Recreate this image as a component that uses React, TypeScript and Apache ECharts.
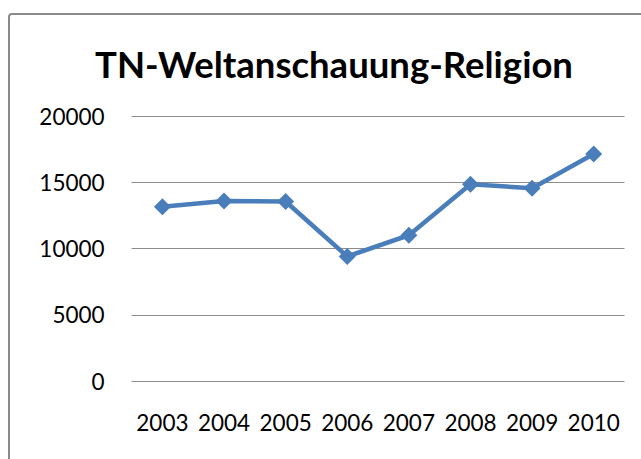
import React, { useEffect, useRef } from "react";
import * as echarts from "echarts";

const categories = ["2003", "2004", "2005", "2006", "2007", "2008", "2009", "2010"];
const values = [13150, 13580, 13550, 9400, 11000, 14850, 14550, 17130];
const yTicks = { min: 0, max: 20000, interval: 5000 };
const title = "TN-Weltanschauung-Religion";

export default function App() {
  const ref = useRef<HTMLDivElement>(null);
  useEffect(() => {
    if (!ref.current) return;
    const chart = echarts.init(ref.current, null, { renderer: "svg" });
    chart.setOption({
      animation: false,
      backgroundColor: "#ffffff",
      title: {
        text: title,
        left: 329,
        textAlign: "center",
        top: 40,
        textStyle: { fontFamily: "Lato", fontWeight: "bold", fontSize: 36.5, color: "#000" },
      },
      graphic: [
        {
          type: "rect",
          shape: { x: 9, y: 14, width: 800, height: 600, r: 3 },
          style: { fill: "none", stroke: "#8a8a8a", lineWidth: 2 },
          silent: true,
        },
      ],
      grid: { left: 131.6, right: 16.5, top: 116, bottom: 78 },
      xAxis: {
        type: "category",
        data: categories,
        boundaryGap: true,
        axisLine: { show: false },
        axisTick: { show: false },
        axisLabel: {
          interval: 0,
          hideOverlap: false,
          fontFamily: "Lato",
          fontSize: 22.5,
          color: "#000",
          margin: 30,
        },
      },
      yAxis: {
        type: "value",
        min: yTicks.min,
        max: yTicks.max,
        interval: yTicks.interval,
        axisLine: { show: false },
        axisTick: { show: false },
        axisLabel: {
          fontFamily: "Lato",
          fontSize: 22.5,
          color: "#000",
          margin: 27,
          formatter: (v: number) => String(v),
        },
        splitLine: { lineStyle: { color: "#8c8c8c", width: 1 } },
      },
      series: [
        {
          type: "line",
          data: values,
          symbol: "diamond",
          symbolSize: 17,
          lineStyle: { color: "#4a7ebb", width: 4.5 },
          itemStyle: { color: "#4a7ebb" },
        },
      ],
    });
    return () => chart.dispose();
  }, []);
  return (
    <div
      ref={ref}
      style={{ position: "fixed", left: 0, top: 0, width: 641, height: 459 }}
    />
  );
}
